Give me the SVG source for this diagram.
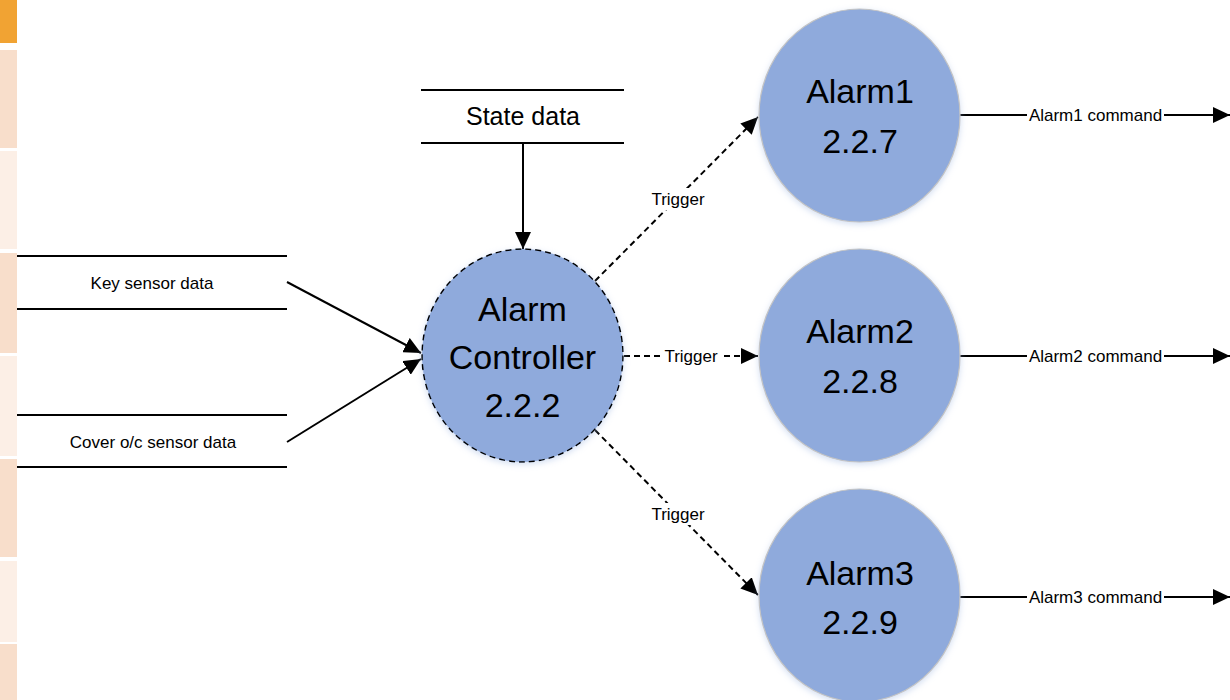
<svg xmlns="http://www.w3.org/2000/svg" width="1230" height="700" viewBox="0 0 1230 700">
  <style>
    .lbl { font-family: "Liberation Sans", Arial, sans-serif; fill: #000; text-anchor: middle; }
    .big { font-size: 34px; }
    .store { font-size: 25px; }
    .small { font-size: 17px; }
    .cmd { font-size: 17px; }
    .proc { fill: #8FAADC; stroke: #C4C4C4; stroke-width: 1.2; }
    .ctrl { fill: #8FAADC; stroke: #000; stroke-width: 1.5; stroke-dasharray: 6 4; }
    .flow { stroke: #000; stroke-width: 2; fill: none; }
    .dash { stroke: #000; stroke-width: 2; fill: none; stroke-dasharray: 6 4; }
    .rule { stroke: #000; stroke-width: 2; }
    .bg { fill: #fff; }
  </style>
  <defs>
    <marker id="arrow" markerUnits="userSpaceOnUse" markerWidth="18" markerHeight="16" refX="17" refY="8" orient="auto">
      <path d="M0,0 L17,8 L0,16 z" fill="#000"/>
    </marker>
    <filter id="glow" x="-20%" y="-20%" width="140%" height="140%">
      <feDropShadow dx="0" dy="2" stdDeviation="3" flood-color="#9DB6E2" flood-opacity="0.45"/>
    </filter>
  </defs>

  <rect width="1230" height="700" fill="#fff"/>

  <!-- side strip -->
  <g id="side-strip">
    <rect x="0" y="0" width="17" height="43" fill="#F1A333"/>
    <rect x="0" y="50" width="17" height="98" fill="#F8DECB"/>
    <rect x="0" y="151" width="17" height="98" fill="#FCEFE6"/>
    <rect x="0" y="253" width="17" height="100" fill="#F8DECB"/>
    <rect x="0" y="356" width="17" height="100" fill="#FCEFE6"/>
    <rect x="0" y="459" width="17" height="98" fill="#F8DECB"/>
    <rect x="0" y="561" width="17" height="81" fill="#FCEFE6"/>
    <rect x="0" y="644" width="17" height="56" fill="#F8DECB"/>
  </g>

  <!-- connectors -->
  <g id="connectors">
    <line class="flow" x1="523" y1="143" x2="523" y2="249" marker-end="url(#arrow)"/>
    <line class="flow" x1="287" y1="282" x2="421" y2="353" marker-end="url(#arrow)"/>
    <line class="flow" x1="287" y1="442" x2="421" y2="359" marker-end="url(#arrow)"/>
    <line class="dash" x1="595" y1="281" x2="758" y2="117" marker-end="url(#arrow)"/>
    <line class="dash" x1="624" y1="356" x2="758" y2="356" marker-end="url(#arrow)"/>
    <line class="dash" x1="595" y1="430" x2="758" y2="595" marker-end="url(#arrow)"/>
    <line class="flow" x1="960" y1="115" x2="1230" y2="115" marker-end="url(#arrow)"/>
    <line class="flow" x1="960" y1="356" x2="1230" y2="356" marker-end="url(#arrow)"/>
    <line class="flow" x1="960" y1="597" x2="1230" y2="597" marker-end="url(#arrow)"/>
    <!-- flow labels -->
    <rect class="bg" x="648" y="188" width="60" height="22"/>
    <text class="lbl small" x="678" y="205">Trigger</text>
    <rect class="bg" x="662" y="346" width="58" height="22"/>
    <text class="lbl small" x="691" y="362">Trigger</text>
    <rect class="bg" x="648" y="503" width="60" height="22"/>
    <text class="lbl small" x="678" y="520">Trigger</text>
    <rect class="bg" x="1027" y="105" width="137" height="22"/>
    <text class="lbl cmd" x="1095.5" y="121">Alarm1 command</text>
    <rect class="bg" x="1027" y="346" width="137" height="22"/>
    <text class="lbl cmd" x="1095.5" y="362">Alarm2 command</text>
    <rect class="bg" x="1027" y="587" width="137" height="22"/>
    <text class="lbl cmd" x="1095.5" y="603">Alarm3 command</text>
  </g>

  <!-- data stores -->
  <g id="store-state">
    <line class="rule" x1="421" y1="90" x2="624" y2="90"/>
    <line class="rule" x1="421" y1="143" x2="624" y2="143"/>
    <text class="lbl store" x="523" y="125">State data</text>
  </g>
  <g id="store-key">
    <line class="rule" x1="17" y1="256" x2="287" y2="256"/>
    <line class="rule" x1="17" y1="309" x2="287" y2="309"/>
    <text class="lbl small" x="152" y="289">Key sensor data</text>
  </g>
  <g id="store-cover">
    <line class="rule" x1="17" y1="415" x2="287" y2="415"/>
    <line class="rule" x1="17" y1="467" x2="287" y2="467"/>
    <text class="lbl small" x="153" y="448">Cover o/c sensor data</text>
  </g>

  <!-- processes -->
  <g id="alarm-controller">
    <ellipse class="ctrl" cx="522.5" cy="355.5" rx="100.5" ry="106.5" filter="url(#glow)"/>
    <text class="lbl big" x="522.5" y="321">Alarm</text>
    <text class="lbl big" x="522.5" y="369">Controller</text>
    <text class="lbl big" x="522.5" y="417">2.2.2</text>
  </g>
  <g id="alarm1">
    <ellipse class="proc" cx="859.5" cy="115.5" rx="100.5" ry="106.5" filter="url(#glow)"/>
    <text class="lbl big" x="860" y="103">Alarm1</text>
    <text class="lbl big" x="860" y="153">2.2.7</text>
  </g>
  <g id="alarm2">
    <ellipse class="proc" cx="859.5" cy="355.5" rx="100.5" ry="106.5" filter="url(#glow)"/>
    <text class="lbl big" x="860" y="343">Alarm2</text>
    <text class="lbl big" x="860" y="393">2.2.8</text>
  </g>
  <g id="alarm3">
    <ellipse class="proc" cx="859.5" cy="595.5" rx="100.5" ry="106.5" filter="url(#glow)"/>
    <text class="lbl big" x="860" y="585">Alarm3</text>
    <text class="lbl big" x="860" y="634">2.2.9</text>
  </g>
</svg>
